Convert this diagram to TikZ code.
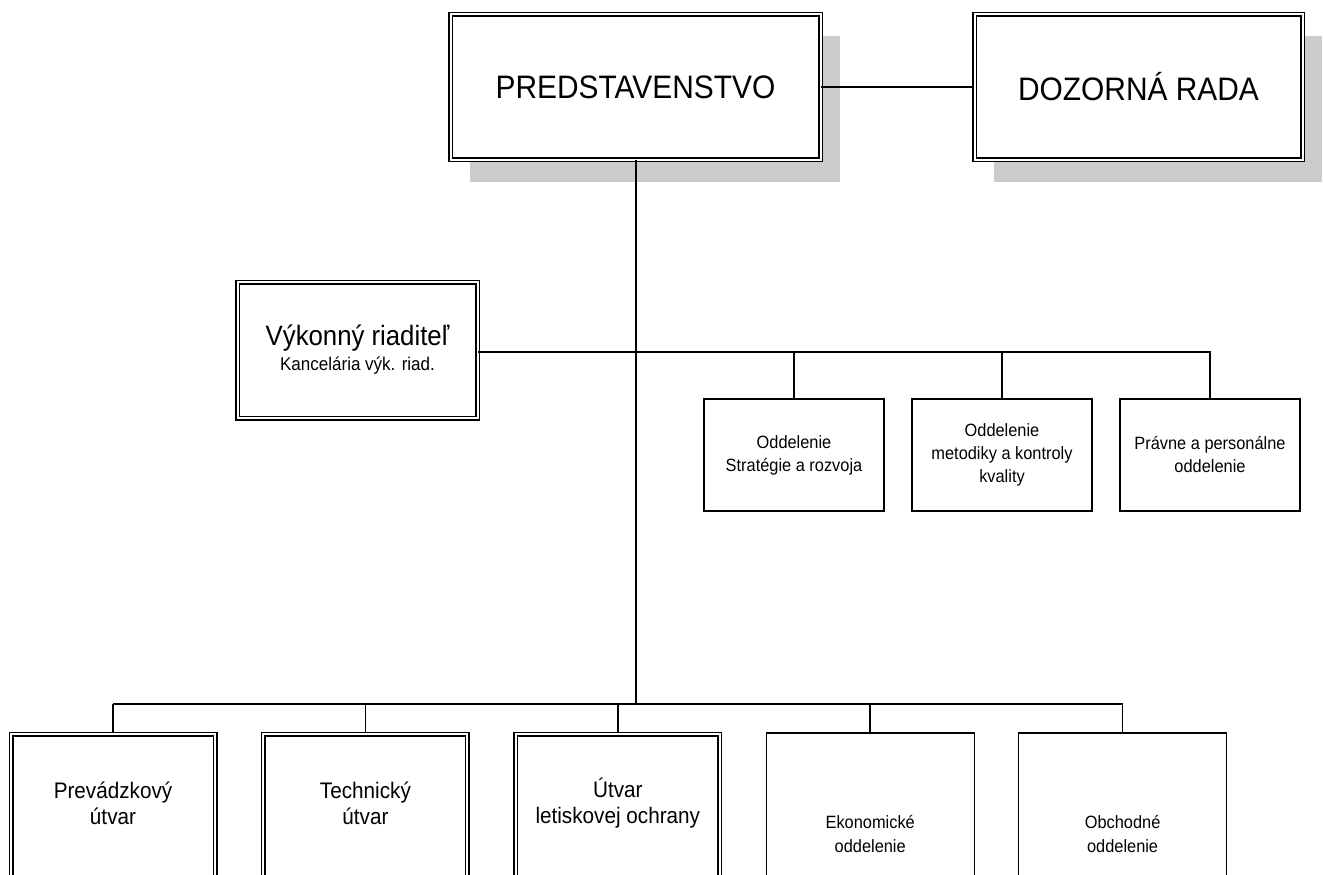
\documentclass[tikz,border=0pt]{standalone}
\usepackage{fontspec}
\setmainfont{Liberation Sans}[FakeStretch=0.92]
\usetikzlibrary{positioning,shadows}

\tikzset{
    dbox/.style={draw, double, double distance=2pt, line width=1.5pt, fill=white, align=center, inner sep=0pt},
    sbox/.style={draw, line width=1.2pt, fill=white, align=center, inner sep=0pt},
    shade/.style={general shadow={fill=black!20, shadow xshift=19pt, shadow yshift=-22pt}},
    conn/.style={line width=1.5pt},
    trunk/.style={line width=2pt},
}

\begin{document}
\begin{tikzpicture}[x=1pt, y=-1pt]
    \useasboundingbox (0,0) rectangle (1323,875);
    % Top level
    \node[dbox, shade, minimum width=370pt, minimum height=145pt, font=\fontsize{32.5}{38}\selectfont] (pred) at (635.5,87) {PREDSTAVENSTVO};
    \node[dbox, shade, minimum width=328pt, minimum height=145pt, font=\fontsize{32.5}{38}\selectfont] (doz) at (1138.5,87) {DOZORNÁ RADA};
    \draw[conn] (pred) -- (doz);

    % Executive director and staff units
    \node[dbox, minimum width=240pt, minimum height=136pt, font=\fontsize{18}{25}\selectfont] (vr) at (357.5,350)
        {{\fontsize{28}{30}\selectfont Výkonný riaditeľ}\\{\fontsize{18.5}{20}\selectfont Kancelária výk. riad.}};
    \node[sbox, minimum width=180pt, minimum height=112pt, font=\fontsize{17.8}{23}\selectfont] (sr) at (794,455) {Oddelenie\\Stratégie a rozvoja};
    \node[sbox, minimum width=180pt, minimum height=112pt, font=\fontsize{17.8}{23}\selectfont] (mk) at (1002,455) {Oddelenie\\metodiky a kontroly\\kvality};
    \node[sbox, minimum width=180pt, minimum height=112pt, font=\fontsize{17.8}{23}\selectfont] (pp) at (1210,455) {Právne a personálne\\oddelenie};
    \draw[conn] (vr.east |- 0,352) -- (pp |- 0,352) -- (pp);
    \draw[conn] (sr) -- (sr |- 0,352);
    \draw[conn] (mk) -- (mk |- 0,352);

    % Main trunk
    \coordinate (hub) at (636,704);
    \draw[trunk] (pred.south) -- (pred.south |- hub);

    % Bottom row (boxes run past the page edge)
    \node[dbox, minimum width=204pt, minimum height=200pt] (pv) at (113,834) {};
    \node[dbox, minimum width=204pt, minimum height=200pt] (tu) at (365.4,834) {};
    \node[dbox, minimum width=204pt, minimum height=200pt] (lo) at (617.8,834) {};
    \node[sbox, minimum width=208pt, minimum height=200pt] (ek) at (870.2,833) {};
    \node[sbox, minimum width=208pt, minimum height=200pt] (ob) at (1122.6,833) {};
    \node[align=center, font=\fontsize{22.5}{26}\selectfont] (pvt) at (113,803) {Prevádzkový\\útvar};
    \node[align=center, font=\fontsize{22.5}{26}\selectfont] (tut) at (365.4,803) {Technický\\útvar};
    \node[align=center, font=\fontsize{22.5}{26}\selectfont] (lot) at (617.8,803) {Útvar\\letiskovej ochrany};
    \node[align=center, font=\fontsize{17.8}{24}\selectfont] (ekt) at (870.2,834) {Ekonomické\\oddelenie};
    \node[align=center, font=\fontsize{17.8}{24}\selectfont] (obt) at (1122.6,834) {Obchodné\\oddelenie};
    \draw[conn] (pv |- hub) -- (ob |- hub);
    \foreach \n in {pv,tu,lo,ek,ob}
        \draw[conn] (\n |- hub) -- (\n.north);
\end{tikzpicture}
\end{document}
